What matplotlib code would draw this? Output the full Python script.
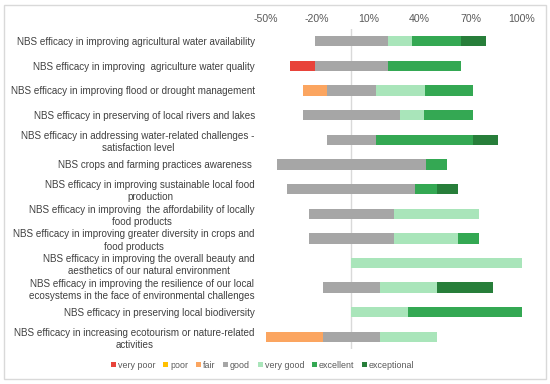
import matplotlib.pyplot as plt
import matplotlib.patches as mpatches
import numpy as np

plt.rcParams['font.family'] = ['Liberation Sans', 'DejaVu Sans']

categories = [
	"NBS efficacy in improving agricultural water availability",
	"NBS efficacy in improving  agriculture water quality",
	"NBS efficacy in improving flood or drought management",
	"NBS efficacy in preserving of local rivers and lakes",
	"NBS efficacy in addressing water-related challenges -\nsatisfaction level",
	"NBS crops and farming practices awareness ",
	"NBS efficacy in improving sustainable local food\nproduction",
	"NBS efficacy in improving  the affordability of locally\nfood products",
	"NBS efficacy in improving greater diversity in crops and\nfood products",
	"NBS efficacy in improving the overall beauty and\naesthetics of our natural environment",
	"NBS efficacy in improving the resilience of our local\necosystems in the face of environmental challenges",
	"NBS efficacy in preserving local biodiversity",
	"NBS efficacy in increasing ecotourism or nature-related\nactivities",
]

# percent of answers per rating level
very_poor = [0, 14.3, 0, 0, 0, 0, 0, 0, 0, 0, 0, 0, 0]
poor = [0, 0, 0, 0, 0, 0, 0, 0, 0, 0, 0, 0, 0]
fair = [0, 0, 14.3, 0, 0, 0, 0, 0, 0, 0, 0, 0, 33.3]
good = [42.9, 42.9, 28.6, 57.1, 28.6, 87.5, 75, 50, 50, 0, 33.3, 0, 33.3]
very_good = [14.3, 0, 28.6, 14.3, 0, 0, 0, 50, 37.5, 100, 33.3, 33.3, 33.3]
excellent = [28.6, 42.9, 28.6, 28.6, 57.1, 12.5, 12.5, 0, 12.5, 0, 0, 66.7, 0]
exceptional = [14.3, 0, 0, 0, 14.3, 0, 12.5, 0, 0, 0, 33.3, 0, 0]

levels = ["very poor", "poor", "fair", "good", "very good", "excellent", "exceptional"]
colors = ["#E8433A", "#FFC000", "#FBA560", "#A6A6A6", "#A9E5BA", "#34A853", "#277E3A"]
ticks = [-50, -20, 10, 40, 70, 100]

series = [np.array(s, dtype=float) for s in
	[very_poor, poor, fair, good, very_good, excellent, exceptional]]

fig = plt.figure(figsize=(5.5, 3.84), dpi=100)
ax = fig.add_axes([0.4836, 0.0904, 0.4655, 0.8346])

y = np.arange(len(categories))
# "good" is split around zero
left = -(series[0] + series[1] + series[2] + series[3] / 2)
for s, c, name in zip(series, colors, levels):
	ax.barh(y, s, left=left, height=0.42, color=c, label=name)
	left = left + s

ax.axvline(0, color="#D9D9D9", linewidth=1, zorder=0)

ax.set_xlim(-50, 100)
ax.set_ylim(len(categories) - 0.5, -0.5)
ax.set_xticks(ticks)
ax.set_xticklabels([f"{t}%" for t in ticks])
ax.xaxis.tick_top()
ax.tick_params(axis="x", length=0, pad=3.5, labelsize=7.6, labelcolor="#595959")
ax.set_yticks(y)
ax.set_yticklabels(categories)
ax.tick_params(axis="y", length=0, pad=8, labelsize=7.1, labelcolor="#404040")
for lab in ax.get_yticklabels():
	lab.set_multialignment("center")
	lab.set_linespacing(1.3)
for sp in ax.spines.values():
	sp.set_visible(False)

fig.legend(loc="center", bbox_to_anchor=(0.478, 0.049), ncol=7, frameon=False,
	fontsize=6.4, labelcolor="#595959", handlelength=0.55, handleheight=0.55,
	handletextpad=0.2, columnspacing=0.9)

fig.patches.append(mpatches.Rectangle((0.008, 0.012), 0.984, 0.976, transform=fig.transFigure,
	fill=False, edgecolor="#D9D9D9", linewidth=1))

fig.savefig("out.png", dpi=100)
